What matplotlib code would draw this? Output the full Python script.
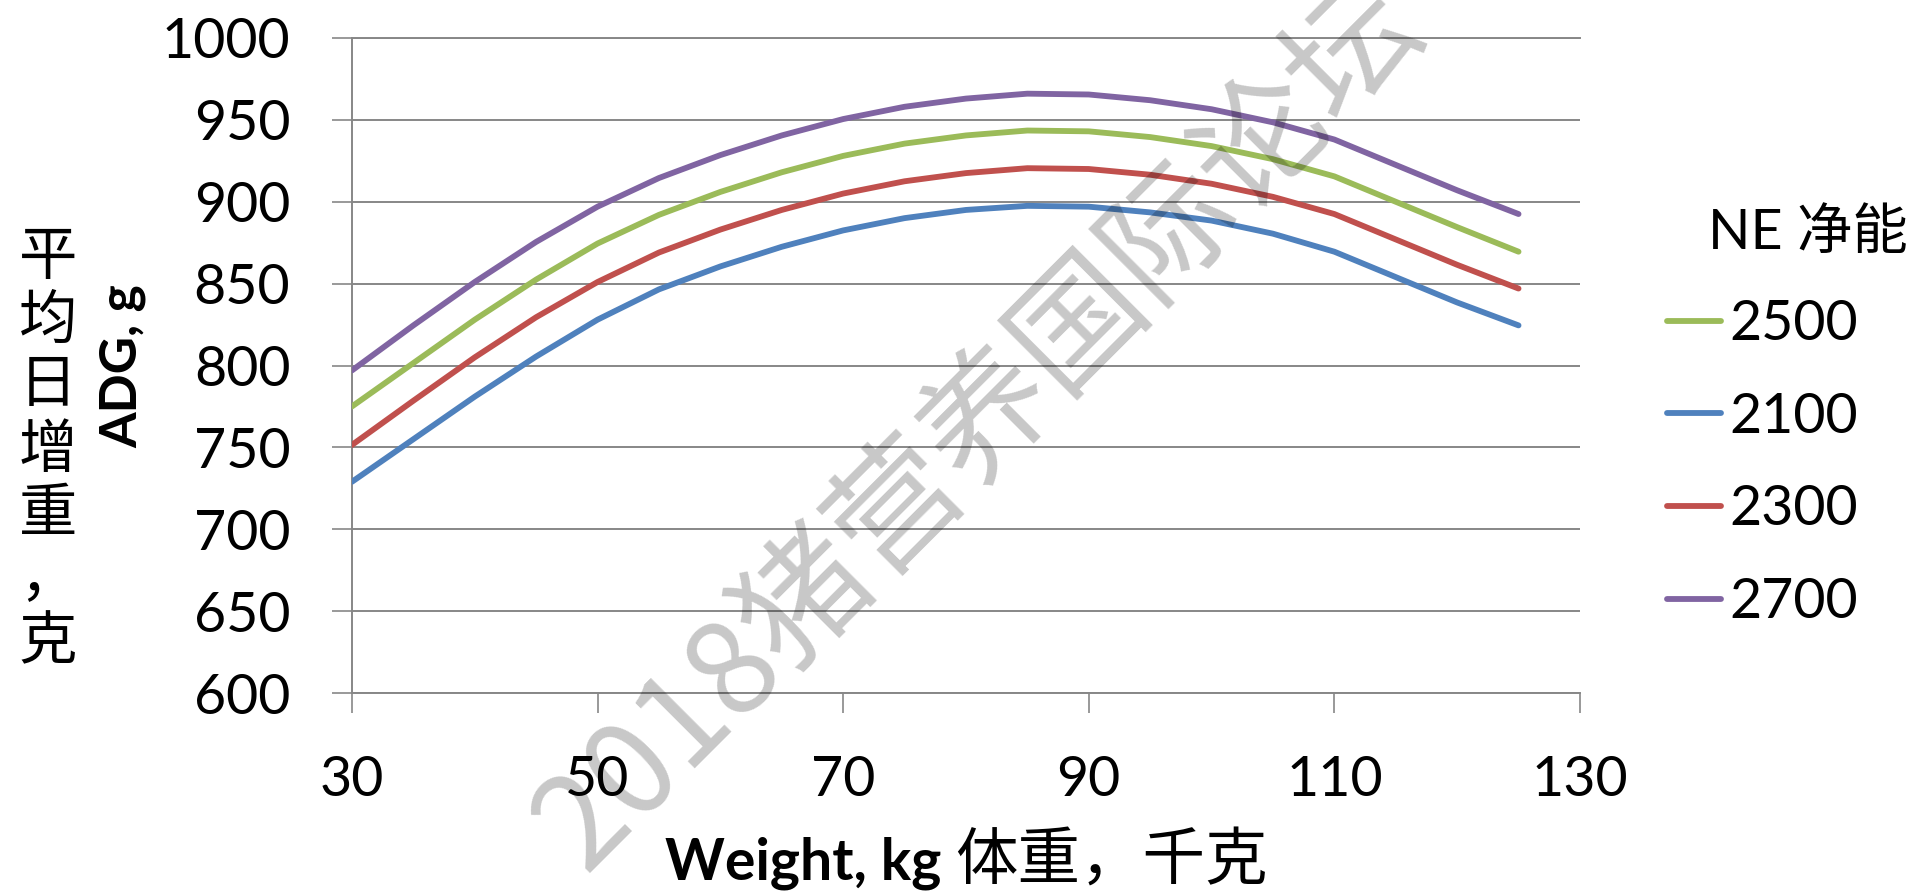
import matplotlib
matplotlib.use("Agg")
import matplotlib.pyplot as plt

# 字体: 拉丁字母用 Lato, 中文回退到 Noto Sans CJK
plt.rcParams['font.family'] = ['Lato', 'Noto Sans CJK SC', 'DejaVu Sans']

# 体重 (kg)
weight = [30, 35, 40, 45, 50, 55, 60, 65, 70, 75,
          80, 85, 90, 95, 100, 105, 110, 115, 120, 125]

# 平均日增重 (g), 按净能水平
adg_2500 = [775, 801.5, 828, 852.5, 874.5, 892, 906, 918, 928, 935.5,
            940.5, 943.5, 943, 939.5, 934, 926, 915.5, 900, 884.5, 869.5]
adg_2100 = [729, 755, 781, 805.5, 828, 846.5, 860.5, 872.5, 882.5, 890,
            895, 897.5, 897, 893.5, 888.5, 880.5, 869.5, 854, 838.5, 824.5]
adg_2300 = [751.5, 778.5, 805, 829.5, 851, 869, 883, 895, 905, 912.5,
            917.5, 920.5, 920, 916.5, 911, 903, 892.5, 877, 861.5, 847]
adg_2700 = [797, 824.5, 851, 875.5, 897, 914.5, 928.5, 940.5, 950.5, 958,
            963, 966, 965.5, 962, 956.5, 948.5, 938, 922.5, 907, 892.5]

labels = ['2500', '2100', '2300', '2700']
series = [adg_2500, adg_2100, adg_2300, adg_2700]
colors = ['#9BBB59', '#4F81BD', '#C0504D', '#8064A2']

x_ticks = [30, 50, 70, 90, 110, 130]
y_ticks = [600, 650, 700, 750, 800, 850, 900, 950, 1000]

grid_c = '#878787'

fig = plt.figure(figsize=(19.16, 8.94), dpi=100)
ax = fig.add_axes([0.1837, 0.2248, 0.6409, 0.7327])

for y, lab, c in zip(series, labels, colors):
    ax.plot(weight, y, color=c, lw=4.2, label=lab,
            solid_capstyle='round', solid_joinstyle='round', zorder=3)

ax.set_xlim(30, 130)
ax.set_ylim(600, 1000)
ax.set_xticks(x_ticks)
ax.set_yticks(y_ticks)
ax.yaxis.grid(True, color=grid_c, lw=1.4)
ax.set_axisbelow(True)

for side in ['left', 'bottom', 'top']:
    ax.spines[side].set_color(grid_c)
    ax.spines[side].set_linewidth(1.4)
ax.spines['right'].set_visible(False)

ax.tick_params(axis='both', direction='out', length=14.4, width=1.2,
               color=grid_c, labelsize=40, pad=30)

# 坐标轴标题
fig.text(0.025, 0.4966, '平\n均\n日\n增\n重\n，\n克', fontsize=42,
         ha='center', va='center', linespacing=1.07,
         family=['Noto Sans CJK SC'])
fig.text(0.064, 0.59, 'ADG, g', fontsize=37, fontweight='bold',
         rotation=90, ha='center', va='center')

fig.text(0.4911, 0.0157, 'Weight, kg', fontsize=41, fontweight='bold',
         ha='right', va='baseline')
fig.text(0.4985, 0.0157, '体重，千克', fontsize=45,
         ha='left', va='baseline', family=['Noto Sans CJK SC'])

# 图例
fig.text(0.8914, 0.7394, 'NE 净能', fontsize=40, ha='left', va='center')
fig.legend(loc='upper left', bbox_to_anchor=(0.870, 0.6655), frameon=False,
           fontsize=40, handlelength=0.98, handletextpad=0.15,
           labelspacing=0.75, borderpad=0, borderaxespad=0)

# 水印
fig.text(0.5115, 0.5224, '2018猪营养国际论坛', fontsize=93, color='black',
         alpha=0.22, rotation=45, rotation_mode='anchor',
         ha='center', va='center', family=['Noto Sans CJK SC'], zorder=10)

fig.savefig('out.png', dpi=100)
